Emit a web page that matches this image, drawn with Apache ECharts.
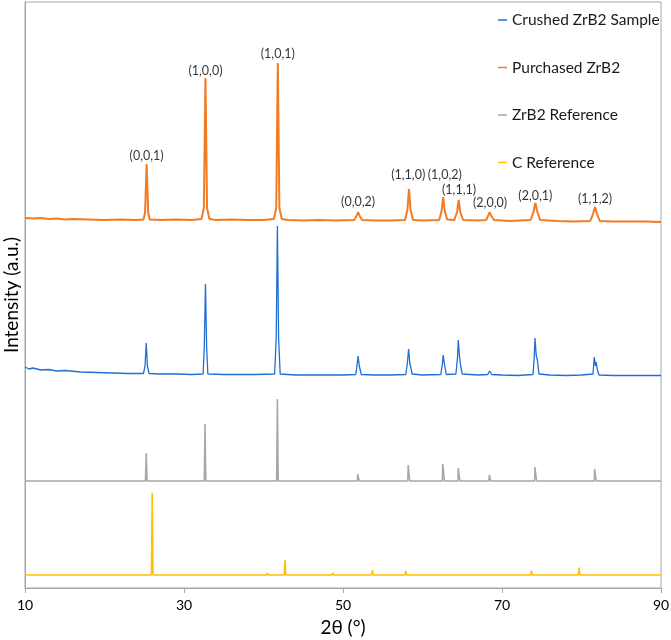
<!DOCTYPE html>
<html><head><meta charset="utf-8">
<script src="https://cdn.jsdelivr.net/npm/echarts@6/dist/echarts.min.js"></script>
<style>html,body{margin:0;padding:0;background:#fff}#c{width:671px;height:640px}</style>
</head><body><div id="c"></div>
<script>
const xTicks = [10, 30, 50, 70, 90];
const seriesNames = ['Crushed ZrB2 Sample', 'Purchased ZrB2', 'ZrB2 Reference', 'C Reference'];

const purchased = [[10,370],[11,369.5],[12,370],[13,369],[14,369.5],[15,368.5],[16,369],[18,368.5],[20,368],[22,368.5],[24,368],[24.9,368.5],[25.1,375],[25.3,424],[25.5,375],[25.7,368.5],[27,368],[29,368.5],[31,368],[32.2,369],[32.5,380],[32.7,510],[32.9,380],[33.2,369],[34,368],[36,368.5],[38,368],[40,368],[41.3,369],[41.6,380],[41.8,525],[42.0,380],[42.3,369],[43,368],[45,367.5],[47,368],[49,367.5],[51.4,368],[51.7,372],[51.9,376],[52.1,372],[52.4,368],[54,367.5],[56,367.5],[57.8,368],[58.1,378],[58.3,399],[58.5,378],[58.8,368],[60,367.5],[62.1,368],[62.4,377],[62.6,391],[62.8,377],[63.1,368.5],[64.0,368],[64.35,376],[64.55,388],[64.75,376],[65.1,368],[67,367.5],[68.0,368],[68.25,372],[68.45,376],[68.65,372],[69.0,368],[71,367],[73.6,368],[73.95,376],[74.2,385],[74.45,376],[74.8,368],[77,367],[79,366.5],[81.1,367],[81.45,374],[81.7,381],[81.95,374],[82.3,367],[84,366.5],[86,366.5],[88,366.5],[90,366]];

const crushed = [[10,221],[10.5,219],[11,220],[12,218],[13,218.5],[14,217],[15,217.5],[17,216],[19,215.5],[21,215],[23,214.5],[24.9,214.5],[25.1,222],[25.25,245],[25.4,222],[25.6,214.5],[27,214],[29,214],[31,213.5],[32.4,214],[32.55,240],[32.7,304],[32.85,240],[33.0,214],[35,213.5],[37,213.5],[39,213.5],[41.4,214],[41.6,250],[41.75,362],[41.9,250],[42.1,214],[44,213],[46,213],[48,213],[50,213],[51.6,213.5],[51.75,222],[51.9,232],[52.05,222],[52.3,213.5],[54,213],[56,213],[57.9,213.5],[58.1,225],[58.25,239],[58.4,225],[58.7,214],[60,213],[62.3,213.5],[62.5,224],[62.6,233],[62.75,224],[63.0,213.5],[64.2,214],[64.4,230],[64.5,248],[64.65,232],[64.8,222],[65.0,214],[67,213],[68.2,213.5],[68.45,217],[68.7,213.5],[70,213],[72,212.5],[73.9,213.5],[74.05,230],[74.15,250],[74.3,233],[74.45,228],[74.65,214],[76,213],[78,212.5],[80,213],[81.45,214],[81.6,231],[81.75,222],[81.85,226],[82.0,218],[82.2,213],[84,212.5],[86,212.5],[88,212.5],[90,212.5]];

const zrb2Ref = [[10,107],[25.15,107],[25.25,135],[25.35,107],[32.55,107],[32.65,164],[32.75,107],[41.65,107],[41.75,189],[41.85,107],[51.8,107],[51.85,114],[51.95,110],[52.05,107],[58.15,107],[58.2,123],[58.3,115],[58.4,107],[62.5,107],[62.55,124],[62.65,116],[62.75,107],[64.45,107],[64.5,120],[64.6,114],[64.7,107],[68.35,107],[68.4,113],[68.5,110],[68.6,107],[74.1,107],[74.15,121],[74.25,114],[74.35,107],[81.6,107],[81.65,119],[81.75,113],[81.85,107],[90,107]];

const cRef = [[10,13],[25.9,13],[26.0,95],[26.1,13],[40.4,13],[40.5,15.3],[40.6,13],[42.6,13],[42.7,28],[42.8,13],[48.6,13],[48.7,15.3],[48.8,13],[53.6,13],[53.7,18],[53.8,13],[57.8,13],[57.9,17],[58.0,13],[73.6,13],[73.7,17.3],[73.8,13],[79.6,13],[79.7,20.3],[79.8,13],[82.7,13],[82.8,14],[82.9,13],[87.5,13],[87.6,11],[87.7,13],[90,13]];

const hklLabels = ['(0,0,1)','(1,0,0)','(1,0,1)','(0,0,2)','(1,1,0)','(1,0,2)','(1,1,1)','(2,0,0)','(2,0,1)','(1,1,2)'];
const hklX = [25.3, 32.7, 41.8, 51.9, 58.2, 62.8, 64.6, 68.5, 74.2, 81.7];
const hklY = [432, 517, 534, 386, 413, 413, 398, 385, 392, 389];

const colors = ['#1f6fd0', '#f37b22', '#a6a6a6', '#ffc000'];
const FONT = 'Lato';

const chart = echarts.init(document.getElementById('c'));
const labelData = hklX.map((x, i) => ({ value: [x, hklY[i]], name: hklLabels[i] }));

chart.setOption({
  animation: false,
  textStyle: { fontFamily: FONT },
  grid: { left: 25, right: 10, top: 2, bottom: 52, show: true, borderColor: '#a6a6a6', borderWidth: 1, containLabel: false, outerBoundsMode: 'none' },
  legend: {
    data: seriesNames, orient: 'vertical', left: 493, top: 7, itemGap: 31.5,
    icon: 'rect', itemWidth: 9, itemHeight: 1.5,
    textStyle: { fontFamily: FONT, fontSize: 15.5, color: '#1a1a1a' }
  },
  xAxis: {
    type: 'value', min: 10, max: 90, interval: 20,
    name: '2θ (°)', nameLocation: 'middle', nameGap: 30,
    nameTextStyle: { fontFamily: FONT, fontSize: 19, color: '#000' },
    axisLine: { lineStyle: { color: '#a6a6a6', width: 1 } },
    axisTick: { show: true, length: 5, lineStyle: { color: '#a6a6a6' } },
    axisLabel: { fontFamily: FONT, fontSize: 14, color: '#000', margin: 10 },
    splitLine: { show: false }
  },
  yAxis: {
    type: 'value', min: 0, max: 586,
    name: 'Intensity (a.u.)', nameLocation: 'middle', nameGap: 4,
    nameTextStyle: { fontFamily: FONT, fontSize: 19, color: '#000' },
    axisLine: { show: true, lineStyle: { color: '#a6a6a6' } },
    axisTick: { show: false }, axisLabel: { show: false }, splitLine: { show: false }
  },
  series: [
    { name: seriesNames[0], type: 'line', data: crushed, showSymbol: false, lineStyle: { color: colors[0], width: 1.3 }, itemStyle: { color: colors[0] } },
    { name: seriesNames[1], type: 'line', data: purchased, showSymbol: false, lineStyle: { color: colors[1], width: 2 }, itemStyle: { color: colors[1] } },
    { name: seriesNames[2], type: 'line', data: zrb2Ref, showSymbol: false, lineStyle: { color: colors[2], width: 1.5 }, itemStyle: { color: colors[2] } },
    { name: seriesNames[3], type: 'line', data: cRef, showSymbol: false, lineStyle: { color: colors[3], width: 1.5 }, itemStyle: { color: colors[3] } },
    { name: 'hkl', type: 'scatter', data: labelData, symbolSize: 1, itemStyle: { color: 'rgba(0,0,0,0)' },
      label: { show: true, position: 'inside', formatter: p => p.name, fontFamily: FONT, fontSize: 12.5, color: '#000' } }
  ]
});
</script></body></html>
